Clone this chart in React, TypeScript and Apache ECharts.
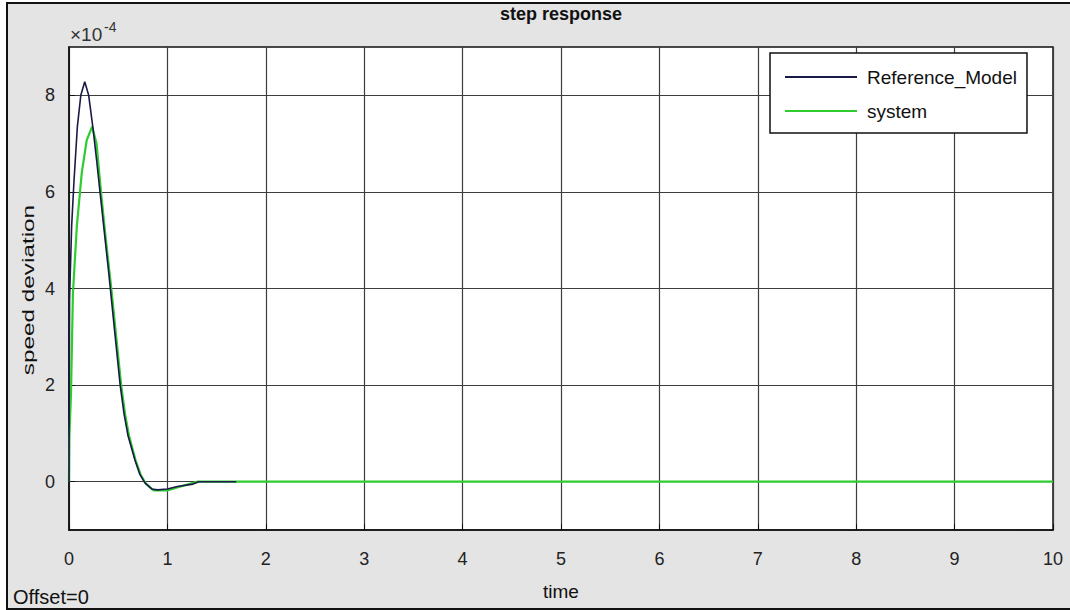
import React, { useEffect, useRef } from "react";
import * as echarts from "echarts";

// time (s) and speed deviation (x 1e-4)
const refTime = [0, 0.001, 0.005, 0.027, 0.05, 0.085, 0.12, 0.16, 0.2, 0.245, 0.28, 0.315, 0.36, 0.4, 0.42, 0.47, 0.52, 0.56, 0.6, 0.67, 0.72, 0.77, 0.84, 0.9, 1.0, 1.1, 1.26, 1.32, 1.7];
const refValue = [0, 1.0, 3.75, 5.3, 6.2, 7.35, 8.0, 8.28, 8.0, 7.3, 6.67, 6.0, 5.15, 4.4, 4.0, 3.0, 2.0, 1.4, 0.95, 0.45, 0.15, -0.02, -0.15, -0.17, -0.15, -0.1, -0.05, 0, 0];
const sysTime = [0, 0.003, 0.02, 0.04, 0.08, 0.13, 0.18, 0.235, 0.28, 0.325, 0.37, 0.43, 0.48, 0.53, 0.57, 0.61, 0.68, 0.73, 0.78, 0.86, 1.0, 1.1, 1.2, 1.3, 10];
const sysValue = [0, 0.9, 1.8, 3.9, 5.3, 6.4, 7.07, 7.35, 7.0, 6.0, 5.1, 4.0, 3.0, 2.0, 1.4, 0.95, 0.42, 0.14, -0.04, -0.18, -0.18, -0.12, -0.06, 0, 0];
const seriesNames = ["Reference_Model", "system"];
const yTicks = [0, 2, 4, 6, 8];

const FONT = "Liberation Sans, Arial, sans-serif";

export default function App() {
  const ref = useRef<HTMLDivElement>(null);
  useEffect(() => {
    document.body.style.margin = "0";
    const chart = echarts.init(ref.current!, null, { renderer: "svg" });
    const refData = refTime.map((t, i) => [t, refValue[i]]);
    const sysData = sysTime.map((t, i) => [t, sysValue[i]]);
    chart.setOption({
      animation: false,
      backgroundColor: "#ffffff",
      textStyle: { fontFamily: FONT },
      graphic: [
        {
          type: "rect",
          z: -10,
          silent: true,
          shape: { x: 7, y: 3, width: 1070, height: 606 },
          style: { fill: "#e4e4e4", stroke: "#111", lineWidth: 2 },
        },
        {
          type: "text",
          x: 561,
          y: 14,
          style: { text: "step response", font: `bold 18px ${FONT}`, fill: "#111", align: "center", verticalAlign: "middle" },
        },
        {
          type: "text",
          x: 70,
          y: 34,
          style: { text: "×10", font: `19px ${FONT}`, fill: "#333", align: "left", verticalAlign: "middle" },
        },
        {
          type: "text",
          x: 104,
          y: 27,
          style: { text: "-4", font: `14px ${FONT}`, fill: "#333", align: "left", verticalAlign: "middle" },
        },
        {
          type: "text",
          x: 13,
          y: 597,
          style: { text: "Offset=0", font: `20px ${FONT}`, fill: "#111", align: "left", verticalAlign: "middle" },
        },
        {
          type: "text",
          x: 28,
          y: 290,
          rotation: Math.PI / 2,
          scaleX: 1.43,
          scaleY: 1,
          style: { text: "speed deviation", font: `17px ${FONT}`, fill: "#111", align: "center", verticalAlign: "middle" },
        },
      ],
      legend: {
        orient: "vertical",
        left: 770,
        top: 53,
        padding: [13, 10, 11, 15],
        backgroundColor: "#ffffff",
        borderColor: "#111",
        borderWidth: 1.5,
        borderRadius: 0,
        icon: "rect",
        itemWidth: 72,
        itemHeight: 2,
        itemGap: 12,
        data: seriesNames,
        textStyle: { fontSize: 19, lineHeight: 22, color: "#111", fontFamily: FONT, padding: [0, 0, 0, 5] },
      },
      grid: {
        left: 69,
        top: 47,
        width: 984,
        height: 483,
        show: true,
        backgroundColor: "#ffffff",
        borderColor: "#111",
        borderWidth: 1.5,
      },
      xAxis: {
        type: "value",
        min: 0,
        max: 10,
        interval: 1,
        name: "time",
        nameLocation: "middle",
        nameGap: 52,
        nameTextStyle: { fontSize: 19, color: "#111" },
        axisLine: { onZero: false, lineStyle: { color: "#111", width: 1.5 } },
        axisTick: { inside: true, length: 6, lineStyle: { color: "#111" } },
        axisLabel: { margin: 20, fontSize: 18, color: "#222" },
        splitLine: { show: true, lineStyle: { color: "#3d3d3d", width: 1.2 } },
      },
      yAxis: {
        type: "value",
        min: -1,
        max: 9,
        axisLine: { onZero: false, lineStyle: { color: "#111", width: 1.5 } },
        axisTick: { inside: true, length: 6, customValues: yTicks, lineStyle: { color: "#111" } },
        axisLabel: { margin: 14, fontSize: 18, color: "#222", customValues: yTicks },
        splitLine: { show: true, lineStyle: { color: "#3d3d3d", width: 1.2 } },
      },
      series: [
        {
          name: seriesNames[0],
          type: "line",
          z: 4,
          data: refData,
          showSymbol: false,
          lineStyle: { color: "#1a1a48", width: 1.6 },
          itemStyle: { color: "#1a1a48" },
        },
        {
          name: seriesNames[1],
          type: "line",
          z: 3,
          data: sysData,
          showSymbol: false,
          lineStyle: { color: "#2ecc2e", width: 2.2 },
          itemStyle: { color: "#2ecc2e" },
        },
      ],
    });
    return () => chart.dispose();
  }, []);
  return <div ref={ref} style={{ width: 1070, height: 610 }} />;
}
